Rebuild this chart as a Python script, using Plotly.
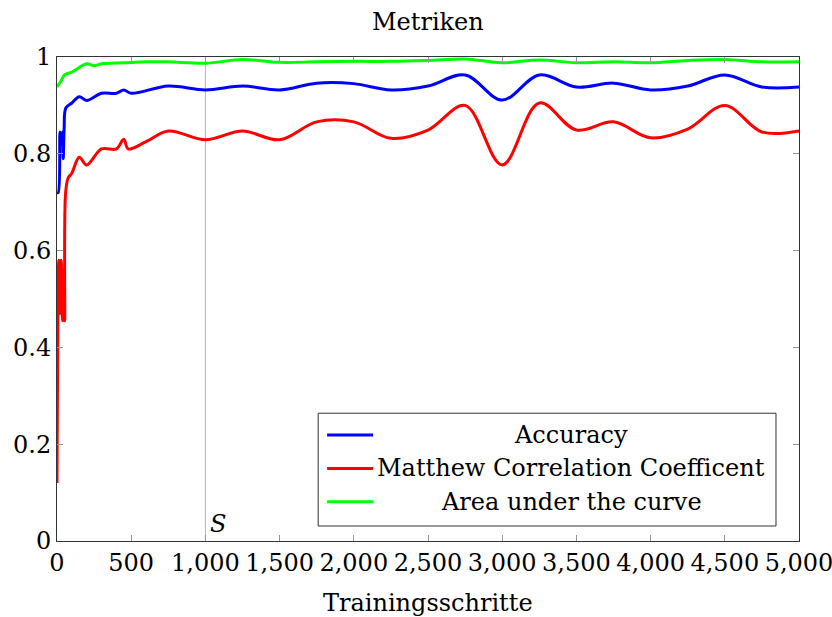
import plotly.graph_objects as go

# ---- data ----
acc_x = [0, 8, 20, 28, 36, 42, 48, 60, 100, 150, 200, 300, 400, 450, 500, 750, 1000, 1250, 1500,
         1750, 2000, 2250, 2500, 2750, 3000, 3250, 3500, 3750, 4000, 4250, 4500, 4750, 5000]
acc_y = [0.72, 0.72, 0.845, 0.82, 0.845, 0.79, 0.85, 0.895, 0.905, 0.918, 0.91, 0.925, 0.925, 0.932, 0.925, 0.94, 0.932,
         0.94, 0.932, 0.946, 0.945, 0.932, 0.94, 0.963, 0.911, 0.963, 0.938, 0.946, 0.932, 0.94,
         0.963, 0.938, 0.938]

mcc_x = [0, 12, 20, 28, 38, 45, 52, 58, 75, 100, 150, 200, 300, 400, 450, 480, 600, 750, 1000, 1250,
         1500, 1750, 2000, 2250, 2500, 2750, 3000, 3250, 3500, 3750, 4000, 4250, 4500, 4750, 5000]
mcc_y = [0.12, 0.58, 0.47, 0.58, 0.455, 0.56, 0.455, 0.72, 0.75, 0.76, 0.793, 0.777, 0.81, 0.81, 0.83,
         0.81, 0.825, 0.847, 0.829, 0.847, 0.829, 0.866, 0.866, 0.832, 0.849, 0.9, 0.777, 0.905,
         0.849, 0.866, 0.833, 0.851, 0.9, 0.845, 0.847]

auc_x = [0, 30, 50, 100, 200, 250, 300, 450, 600, 750, 1000, 1250, 1500, 1750, 2000, 2250, 2500,
         2750, 3000, 3250, 3500, 3750, 4000, 4250, 4500, 4750, 5000]
auc_y = [0.938, 0.952, 0.963, 0.969, 0.986, 0.982, 0.986, 0.988, 0.99, 0.99, 0.987, 0.995, 0.989,
         0.99, 0.991, 0.991, 0.993, 0.996, 0.988, 0.994, 0.988, 0.99, 0.988, 0.993, 0.995, 0.99, 0.99]

series_names = ["Accuracy", "Matthew Correlation Coefficent", "Area under the curve"]
series_colors = ["#0000ff", "#ff0000", "#00ff00"]

x_ticks = [0, 500, 1000, 1500, 2000, 2500, 3000, 3500, 4000, 4500, 5000]
y_ticks = [0, 0.2, 0.4, 0.6, 0.8, 1]
y_tick_labels = ["0", "0.2", "0.4", "0.6", "0.8", "1"]
s_step = 1000

FONT = "DejaVu Serif"
FS = 24

fig = go.Figure()
for xs, ys, name, col in zip([acc_x, mcc_x, auc_x], [acc_y, mcc_y, auc_y], series_names, series_colors):
    fig.add_trace(go.Scatter(x=xs, y=ys, mode="lines", name=name, showlegend=False,
                             line=dict(color=col, width=3, shape="spline", smoothing=1.0)))

fig.add_vline(x=s_step, line=dict(color="#b4b4b4", width=1), layer="below")
fig.add_annotation(x=s_step, y=0, xref="x", yref="y", text="<i>S</i>", showarrow=False,
                   xanchor="left", yanchor="bottom", xshift=3, yshift=1,
                   font=dict(family=FONT, size=FS, color="black"))

# custom legend (centered text like the original)
lx0, lx1, ly0, ly1 = 0.352, 0.969, 0.031, 0.264
fig.add_shape(type="rect", xref="paper", yref="paper", x0=lx0, x1=lx1, y0=ly0, y1=ly1,
              line=dict(color="#333333", width=1), fillcolor="white", layer="above")
row_y = [0.219, 0.150, 0.081]
for name, col, yy in zip(series_names, series_colors, row_y):
    fig.add_shape(type="line", xref="paper", yref="paper", x0=0.364, x1=0.426, y0=yy, y1=yy,
                  line=dict(color=col, width=3), layer="above")
    fig.add_annotation(x=0.693, y=yy, xref="paper", yref="paper", text=name, showarrow=False,
                       xanchor="center", yanchor="middle",
                       font=dict(family=FONT, size=FS, color="black"))

# title and axis title as annotations (fixed placement)
fig.add_annotation(x=0.5, y=1.072, xref="paper", yref="paper", text="Metriken", showarrow=False,
                   xanchor="center", yanchor="middle", font=dict(family=FONT, size=FS, color="black"))
fig.add_annotation(x=0.5, y=-0.128, xref="paper", yref="paper", text="Trainingsschritte",
                   showarrow=False, xanchor="center", yanchor="middle",
                   font=dict(family=FONT, size=FS, color="black"))

fig.update_layout(
    width=832, height=617,
    margin=dict(l=57, r=33, t=57, b=76),
    paper_bgcolor="white", plot_bgcolor="white",
    font=dict(family=FONT, size=FS, color="black"),
    showlegend=False,
)
fig.update_xaxes(range=[0, 5000], tickvals=x_ticks, tickformat=",d", showgrid=False, zeroline=False,
                 showline=True, linecolor="#333333", linewidth=1, mirror="allticks",
                 ticks="inside", ticklen=6, tickcolor="#999999", automargin=False,
                 ticklabeloverflow="allow", tickfont=dict(family=FONT, size=FS))
fig.update_yaxes(range=[0, 1], tickvals=y_ticks, ticktext=y_tick_labels, showgrid=False, zeroline=False,
                 showline=True, linecolor="#333333", linewidth=1, mirror="allticks",
                 ticks="inside", ticklen=6, tickcolor="#999999", automargin=False,
                 ticklabeloverflow="allow", tickfont=dict(family=FONT, size=FS))

fig.write_html("out.html", config={"displayModeBar": False},
               post_script="document.body.style.margin='0';document.body.style.overflow='hidden';")
